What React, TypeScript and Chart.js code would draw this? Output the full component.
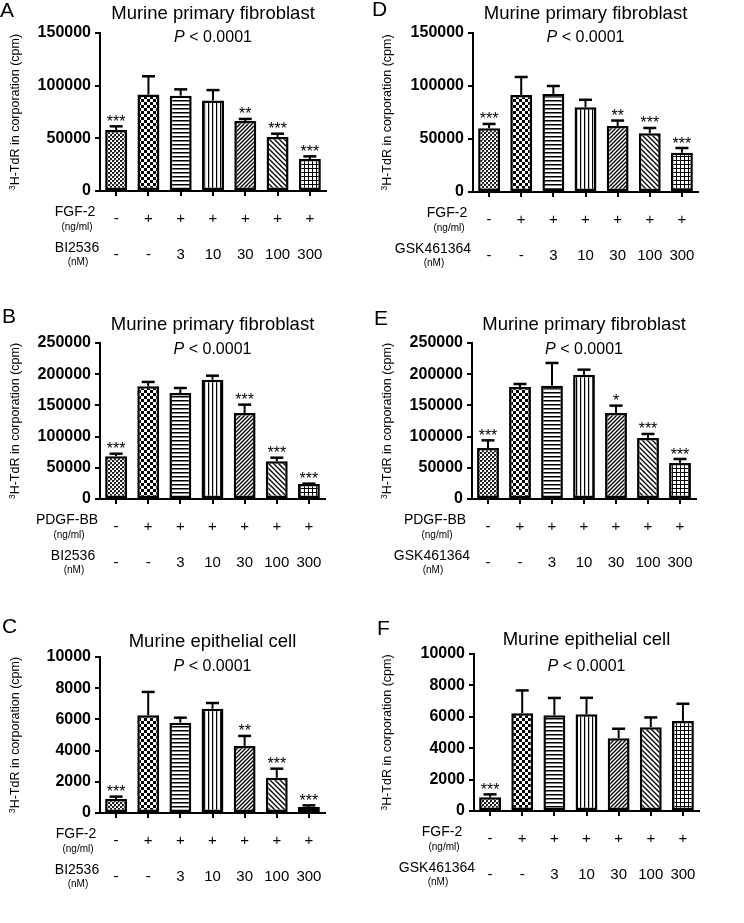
import React, { useEffect, useRef } from 'react';
import { Chart, registerables } from 'chart.js';

Chart.register(...registerables);

// ---------- data ----------
const categories = ['Unstimulated', 'Stimulated', '3 nM', '10 nM', '30 nM', '100 nM', '300 nM'];
const stimRow = ['-', '+', '+', '+', '+', '+', '+'];
const doseRow = ['-', '-', '3', '10', '30', '100', '300'];

// A: fibroblast, FGF-2, BI2536
const meanA = [58000, 91500, 90500, 86000, 66500, 51300, 30400];
const errA = [3400, 17400, 6000, 9800, 1900, 3100, 2500];
const sigA = ['***', '', '', '', '**', '***', '***'];
// B: fibroblast, PDGF-BB, BI2536
const meanB = [68400, 180600, 169900, 191200, 137800, 60400, 24000];
const errB = [4200, 7000, 8000, 6400, 13400, 5800, 600];
const sigB = ['***', '', '', '', '***', '***', '***'];
// C: epithelial, FGF-2, BI2536
const meanC = [900, 6260, 5790, 6690, 4300, 2260, 380];
const errC = [150, 1500, 320, 360, 640, 580, 110];
const sigC = ['***', '', '', '', '**', '***', '***'];
// D: fibroblast, FGF-2, GSK461364
const meanD = [60100, 91500, 92400, 80000, 62300, 55400, 37000];
const errD = [4100, 17000, 7600, 7000, 5100, 5000, 4500];
const sigD = ['***', '', '', '', '**', '***', '***'];
// E: fibroblast, PDGF-BB, GSK461364
const meanE = [81700, 179500, 181600, 199300, 137800, 97800, 57700];
const errE = [12300, 4800, 36400, 8000, 11800, 6400, 6400];
const sigE = ['***', '', '', '', '*', '***', '***'];
// F: epithelial, FGF-2, GSK461364
const meanF = [870, 6230, 6100, 6170, 4640, 5340, 5740];
const errF = [190, 1450, 1100, 1040, 600, 620, 1090];
const sigF = ['***', '', '', '', '', '', ''];

const FONT = '"Liberation Sans", Arial, Helvetica, sans-serif';
Chart.defaults.font.family = FONT;

type Panel = {
  letter: string; title: string; stimLabel: string; drugLabel: string;
  mean: number[]; err: number[]; sig: string[]; max: number; step: number;
  left: number; top: number; w: number; h: number;
  L: number; R: number; T: number; B: number;
  titleY: number; pY: number; letterX: number; letterY: number;
  stimX: number; drugX: number;
};

const panels: Panel[] = [
  { letter: 'A', title: 'Murine primary fibroblast', stimLabel: 'FGF-2', drugLabel: 'BI2536', mean: meanA, err: errA, sig: sigA, max: 150000, step: 50000,
    left: 0, top: 0, w: 372, h: 300, L: 100, R: 326, T: 33, B: 191, titleY: 13.5, pY: 38, letterX: 0, letterY: 17, stimX: 75, drugX: 77 },
  { letter: 'D', title: 'Murine primary fibroblast', stimLabel: 'FGF-2', drugLabel: 'GSK461364', mean: meanD, err: errD, sig: sigD, max: 150000, step: 50000,
    left: 372, top: 0, w: 372, h: 300, L: 101, R: 326, T: 33, B: 192, titleY: 13.5, pY: 38, letterX: 0, letterY: 16, stimX: 75, drugX: 61 },
  { letter: 'B', title: 'Murine primary fibroblast', stimLabel: 'PDGF-BB', drugLabel: 'BI2536', mean: meanB, err: errB, sig: sigB, max: 250000, step: 50000,
    left: 0, top: 300, w: 372, h: 310, L: 100, R: 325, T: 43, B: 199, titleY: 25, pY: 50, letterX: 2, letterY: 23, stimX: 67, drugX: 73 },
  { letter: 'E', title: 'Murine primary fibroblast', stimLabel: 'PDGF-BB', drugLabel: 'GSK461364', mean: meanE, err: errE, sig: sigE, max: 250000, step: 50000,
    left: 372, top: 300, w: 372, h: 310, L: 100, R: 324, T: 43, B: 199, titleY: 25, pY: 50, letterX: 2, letterY: 25, stimX: 63, drugX: 60 },
  { letter: 'C', title: 'Murine epithelial cell', stimLabel: 'FGF-2', drugLabel: 'BI2536', mean: meanC, err: errC, sig: sigC, max: 10000, step: 2000,
    left: 0, top: 610, w: 372, h: 313, L: 100, R: 325, T: 47, B: 203, titleY: 32, pY: 57, letterX: 2, letterY: 23, stimX: 76, drugX: 77 },
  { letter: 'F', title: 'Murine epithelial cell', stimLabel: 'FGF-2', drugLabel: 'GSK461364', mean: meanF, err: errF, sig: sigF, max: 10000, step: 2000,
    left: 372, top: 610, w: 372, h: 313, L: 102, R: 327, T: 44, B: 201, titleY: 30, pY: 57, letterX: 5, letterY: 25, stimX: 70, drugX: 65 },
];

function makePatterns(): (CanvasPattern | string)[] {
  const mk = (size: number, draw: (c: CanvasRenderingContext2D, s: number) => void) => {
    const cv = document.createElement('canvas');
    cv.width = size; cv.height = size;
    const c = cv.getContext('2d')!;
    c.fillStyle = '#fff';
    c.fillRect(0, 0, size, size);
    c.fillStyle = '#000';
    c.strokeStyle = '#000';
    draw(c, size);
    return c.createPattern(cv, 'repeat') || '#888';
  };
  return [
    // fine checker
    mk(4, (c) => { c.fillStyle = '#222'; c.fillRect(0, 0, 2, 2); c.fillRect(2, 2, 2, 2); c.fillStyle = '#999'; c.fillRect(2, 0, 1, 1); }),
    // coarse checker
    mk(6, (c) => { c.fillRect(0, 0, 3, 3); c.fillRect(3, 3, 3, 3); }),
    // horizontal lines
    mk(4, (c, s) => { c.fillRect(0, 0, s, 1.5); }),
    // vertical lines
    mk(4, (c, s) => { c.fillRect(0, 0, 1.2, s); }),
    // diagonal /
    mk(4, (c, s) => {
      c.lineWidth = 1.3;
      c.beginPath();
      c.moveTo(-1, s + 1); c.lineTo(s + 1, -1);
      c.moveTo(-1, 1); c.lineTo(1, -1);
      c.moveTo(s - 1, s + 1); c.lineTo(s + 1, s - 1);
      c.stroke();
    }),
    // diagonal \
    mk(5, (c, s) => {
      c.lineWidth = 1.3;
      c.beginPath();
      c.moveTo(-1, -1); c.lineTo(s + 1, s + 1);
      c.moveTo(-1, s - 1); c.lineTo(1, s + 1);
      c.moveTo(s - 1, -1); c.lineTo(s + 1, 1);
      c.stroke();
    }),
    // grid
    mk(4, (c, s) => { c.fillRect(0, 0, s, 1); c.fillRect(0, 0, 1, s); }),
  ];
}

function PanelChart({ p }: { p: Panel }) {
  const ref = useRef<HTMLCanvasElement | null>(null);
  useEffect(() => {
    if (!ref.current) return;
    const overlay = {
      id: 'overlay-' + p.letter,
      afterDatasetsDraw(chart: any) {
        const { ctx } = chart;
        const x = chart.scales.x;
        const y = chart.scales.y;
        ctx.save();
        ctx.strokeStyle = '#000';
        ctx.fillStyle = '#000';
        p.mean.forEach((m, i) => {
          const cx = x.getPixelForValue(i);
          const y0 = y.getPixelForValue(m);
          const y1 = y.getPixelForValue(m + p.err[i]);
          ctx.lineWidth = 2;
          ctx.beginPath();
          ctx.moveTo(cx, y0);
          ctx.lineTo(cx, y1);
          ctx.stroke();
          ctx.lineWidth = 2.5;
          ctx.beginPath();
          ctx.moveTo(cx - 6.5, y1);
          ctx.lineTo(cx + 6.5, y1);
          ctx.stroke();
          if (p.sig[i]) {
            ctx.font = `16px ${FONT}`;
            ctx.textAlign = 'center';
            ctx.textBaseline = 'alphabetic';
            ctx.fillText(p.sig[i], cx, y1 + 0.5);
          }
        });
        ctx.restore();
      },
      afterDraw(chart: any) {
        const { ctx, chartArea } = chart;
        const x = chart.scales.x;
        const cxMid = (chartArea.left + chartArea.right) / 2;
        const bot = chartArea.bottom;
        ctx.save();
        ctx.fillStyle = '#000';
        // panel letter
        ctx.font = `21px ${FONT}`;
        ctx.textAlign = 'left';
        ctx.textBaseline = 'alphabetic';
        ctx.fillText(p.letter, p.letterX, p.letterY);
        // title
        ctx.font = `18.5px ${FONT}`;
        ctx.textAlign = 'center';
        ctx.textBaseline = 'middle';
        ctx.fillText(p.title, cxMid, p.titleY);
        // P value
        ctx.font = `italic 16px ${FONT}`;
        const wP = ctx.measureText('P').width;
        ctx.font = `16px ${FONT}`;
        const rest = ' < 0.0001';
        const wR = ctx.measureText(rest).width;
        const sx = cxMid - (wP + wR) / 2;
        ctx.textAlign = 'left';
        ctx.font = `italic 16px ${FONT}`;
        ctx.fillText('P', sx, p.pY);
        ctx.font = `16px ${FONT}`;
        ctx.fillText(rest, sx + wP, p.pY);
        // y-axis title with superscript
        ctx.save();
        ctx.translate(16, (chartArea.top + chartArea.bottom) / 2);
        ctx.rotate(-Math.PI / 2);
        ctx.font = `8.5px ${FONT}`;
        const wSup = ctx.measureText('3').width;
        ctx.font = `12.5px ${FONT}`;
        const main = 'H-TdR in corporation (cpm)';
        const wMain = ctx.measureText(main).width;
        const st = -(wSup + wMain) / 2;
        ctx.textAlign = 'left';
        ctx.textBaseline = 'middle';
        ctx.font = `8.5px ${FONT}`;
        ctx.fillText('3', st, -3);
        ctx.font = `12.5px ${FONT}`;
        ctx.fillText(main, st + wSup, 0);
        ctx.restore();
        // condition rows
        ctx.textAlign = 'center';
        ctx.textBaseline = 'middle';
        ctx.font = `14px ${FONT}`;
        ctx.fillText(p.stimLabel, p.stimX, bot + 21);
        ctx.fillText(p.drugLabel, p.drugX, bot + 57.3);
        ctx.font = `10px ${FONT}`;
        ctx.fillText('(ng/ml)', p.stimX + 2, bot + 36);
        ctx.fillText('(nM)', p.drugX + 1, bot + 71.5);
        ctx.font = `15px ${FONT}`;
        stimRow.forEach((s, i) => ctx.fillText(s, x.getPixelForValue(i), bot + 28));
        doseRow.forEach((s, i) => ctx.fillText(s, x.getPixelForValue(i), bot + 64));
        ctx.restore();
      },
    };
    const chart = new Chart(ref.current, {
      type: 'bar',
      data: {
        labels: categories,
        datasets: [{
          data: p.mean,
          backgroundColor: makePatterns() as any,
          borderColor: '#000',
          borderWidth: 2.5,
          borderSkipped: false,
          barPercentage: 0.68,
          categoryPercentage: 1,
        }],
      },
      options: {
        responsive: false,
        animation: false,
        devicePixelRatio: 1,
        layout: { padding: { left: 0, right: p.w - p.R, top: p.T, bottom: p.h - p.B } },
        plugins: { legend: { display: false }, tooltip: { enabled: false }, title: { display: false } },
        scales: {
          x: {
            grid: { drawOnChartArea: false, offset: false, tickLength: 5, color: '#000', lineWidth: 2 },
            border: { color: '#000', width: 2 },
            ticks: { display: false },
            afterFit: (s: any) => { s.height = 0; },
          },
          y: {
            min: 0,
            max: p.max,
            ticks: {
              stepSize: p.step,
              color: '#000',
              padding: 4,
              font: { family: FONT, size: 16, weight: 'bold' },
              callback: (v: any) => String(v),
            },
            grid: { drawOnChartArea: false, tickLength: 5, color: '#000', lineWidth: 2 },
            border: { color: '#000', width: 2 },
            afterFit: (s: any) => { s.width = p.L; },
          },
        },
      } as any,
      plugins: [overlay],
    });
    return () => chart.destroy();
  }, [p]);
  return (
    <canvas
      ref={ref}
      width={p.w}
      height={p.h}
      style={{ position: 'absolute', left: p.left, top: p.top, width: p.w, height: p.h }}
    />
  );
}

export default function App() {
  return (
    <div style={{ position: 'absolute', left: 0, top: 0, width: 744, height: 923, background: '#fff' }}>
      {panels.map((p) => (
        <PanelChart key={p.letter} p={p} />
      ))}
    </div>
  );
}
